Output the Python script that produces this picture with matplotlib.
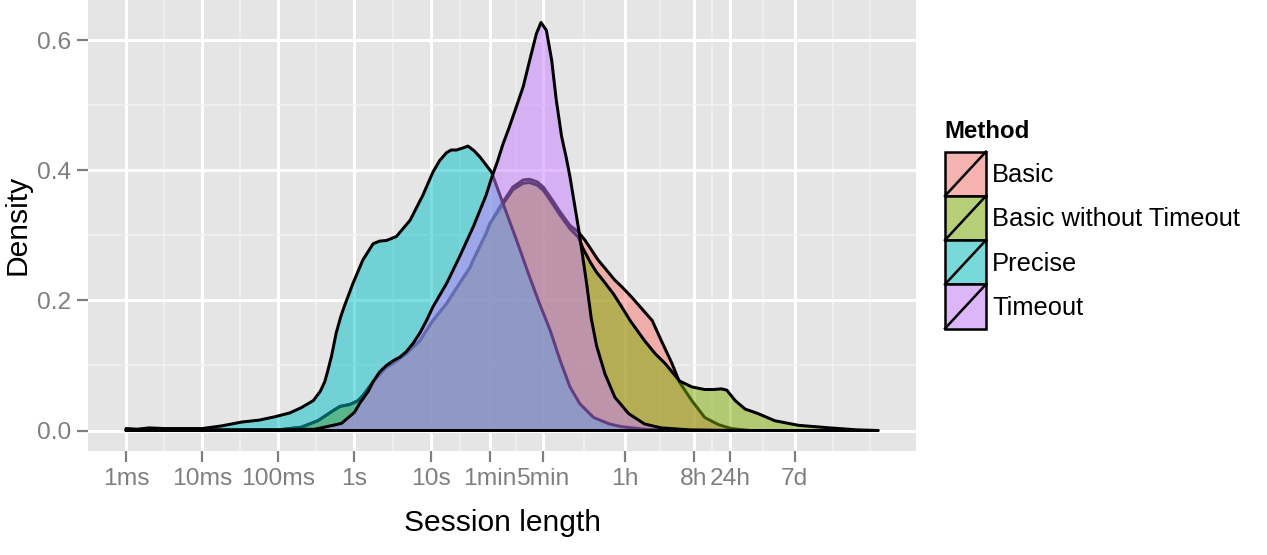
import numpy as np
import matplotlib
matplotlib.use("Agg")
import matplotlib.pyplot as plt
from matplotlib.colors import to_rgba
from matplotlib.patches import Rectangle
from matplotlib.ticker import FixedLocator

plt.rcParams['font.family'] = ['Liberation Sans', 'DejaVu Sans']

# ---------------- data ----------------
methods = ["Basic", "Basic without Timeout", "Precise", "Timeout"]
colors = ["#F8766D", "#7CAE00", "#00BFC4", "#C77CFF"]

tick_seconds = [0.001, 0.01, 0.1, 1, 10, 60, 300, 3600, 28800, 86400, 604800]
tick_labels = ["1ms", "10ms", "100ms", "1s", "10s", "1min", "5min", "1h", "8h", "24h", "7d"]
y_ticks = [0.0, 0.2, 0.4, 0.6]

# x values are log10(session length in seconds), y values are densities
basic_x = [-3.0, -1.0, -0.70, -0.48, -0.30, -0.19, -0.06, 0.05, 0.12, 0.245,
           0.42, 0.51, 0.68, 0.86, 1.03, 1.21, 1.38, 1.515, 1.56, 1.73,
           1.78, 1.91, 2.08, 2.215, 2.30, 2.40, 2.48, 2.57, 2.70, 2.83,
           2.94, 3.03, 3.20, 3.42, 3.51, 3.64, 3.79, 3.91, 4.03, 4.17,
           4.27, 4.43, 4.60, 4.78, 4.95, 5.20]
basic_y = [0.0, 0.001, 0.005, 0.015, 0.029, 0.037, 0.040, 0.046, 0.055, 0.075,
           0.097, 0.103, 0.118, 0.138, 0.169, 0.195, 0.226, 0.250, 0.262, 0.303,
           0.318, 0.344, 0.374, 0.385, 0.386, 0.382, 0.374, 0.359, 0.336, 0.315,
           0.305, 0.292, 0.262, 0.231, 0.221, 0.205, 0.185, 0.169, 0.138, 0.103,
           0.074, 0.046, 0.020, 0.009, 0.003, 0.0]

bwot_x = [-3.0, -1.0, -0.70, -0.48, -0.30, -0.19, -0.06, 0.05, 0.12, 0.245,
          0.42, 0.51, 0.68, 0.86, 1.03, 1.21, 1.38, 1.515, 1.56, 1.73,
          1.78, 1.91, 2.08, 2.215, 2.30, 2.40, 2.48, 2.57, 2.70, 2.83,
          2.94, 3.00, 3.10, 3.18, 3.25, 3.40, 3.51, 3.62, 3.81, 3.95,
          4.08, 4.27, 4.43, 4.60, 4.72, 4.82, 4.89, 5.00, 5.13, 5.30,
          5.52, 5.83, 6.245, 6.60, 6.88]
bwot_y = [0.0, 0.001, 0.005, 0.015, 0.029, 0.037, 0.040, 0.046, 0.055, 0.075,
          0.097, 0.103, 0.118, 0.138, 0.169, 0.195, 0.226, 0.250, 0.262, 0.303,
          0.318, 0.341, 0.370, 0.380, 0.381, 0.377, 0.369, 0.354, 0.331, 0.310,
          0.297, 0.280, 0.258, 0.243, 0.233, 0.210, 0.190, 0.169, 0.138, 0.118,
          0.103, 0.076, 0.067, 0.063, 0.063, 0.064, 0.062, 0.046, 0.033, 0.026,
          0.015, 0.008, 0.004, 0.001, 0.0]

precise_x = [-3.0, -2.85, -2.7, -2.5, -2.2, -2.0, -1.75, -1.48, -1.25, -1.05,
             -0.85, -0.70, -0.54, -0.45, -0.39, -0.35, -0.30, -0.24, -0.18, -0.13,
             -0.02, 0.11, 0.245, 0.33, 0.42, 0.55, 0.73, 0.90, 1.03, 1.12,
             1.21, 1.27, 1.34, 1.42, 1.49, 1.57, 1.65, 1.80, 1.95, 2.13,
             2.30, 2.43, 2.57, 2.70, 2.83, 2.96, 3.14, 3.35, 3.50, 3.80,
             4.20]
precise_y = [0.003, 0.002, 0.004, 0.003, 0.003, 0.003, 0.007, 0.013, 0.016, 0.021,
             0.027, 0.035, 0.046, 0.060, 0.075, 0.092, 0.115, 0.150, 0.175, 0.192,
             0.226, 0.262, 0.287, 0.291, 0.292, 0.298, 0.323, 0.362, 0.397, 0.415,
             0.427, 0.431, 0.431, 0.434, 0.437, 0.430, 0.420, 0.397, 0.349, 0.292,
             0.236, 0.195, 0.154, 0.108, 0.067, 0.041, 0.020, 0.010, 0.006, 0.002,
             0.0]

timeout_x = [-3.0, -1.0, -0.52, -0.28, -0.17, -0.10, 0.0, 0.07, 0.18, 0.245,
             0.33, 0.42, 0.52, 0.60, 0.68, 0.77, 0.86, 0.95, 1.03, 1.21,
             1.38, 1.56, 1.73, 1.80, 1.88, 1.95, 2.03, 2.11, 2.215, 2.325,
             2.39, 2.45, 2.52, 2.59, 2.65, 2.72, 2.78, 2.83, 2.895, 2.95,
             3.00, 3.05, 3.11, 3.18, 3.29, 3.42, 3.60, 3.81, 4.03, 4.40,
             5.00]
timeout_y = [0.001, 0.001, 0.002, 0.008, 0.011, 0.018, 0.028, 0.042, 0.060, 0.075,
             0.090, 0.100, 0.108, 0.113, 0.121, 0.134, 0.150, 0.170, 0.190, 0.226,
             0.267, 0.313, 0.362, 0.388, 0.414, 0.440, 0.465, 0.492, 0.528, 0.580,
             0.610, 0.627, 0.615, 0.569, 0.508, 0.452, 0.420, 0.390, 0.344, 0.305,
             0.265, 0.225, 0.172, 0.130, 0.087, 0.051, 0.026, 0.010, 0.004, 0.001,
             0.0]

series = [(basic_x, basic_y), (bwot_x, bwot_y), (precise_x, precise_y), (timeout_x, timeout_y)]

# ---------------- figure ----------------
DPI = 100
W, H = 1267, 555


def pt(px):
    return px * 72.0 / DPI


fig = plt.figure(figsize=(W / DPI, H / DPI), dpi=DPI)
fig.patch.set_facecolor("white")

PL, PR, PT, PB = 88, 916, 0, 451
ax = fig.add_axes([PL / W, 1 - PB / H, (PR - PL) / W, (PB - PT) / H])
ax.set_facecolor("#E5E5E5")
for s in ax.spines.values():
    s.set_visible(False)

ax.set_xlim(-3.5, 7.375)
ax.set_ylim(-0.0315, 0.6615)

major_x = np.log10(tick_seconds)
minor_x = list((major_x[:-1] + major_x[1:]) / 2) + [6.28, 6.77]
ax.set_xticks(major_x)
ax.set_xticklabels(tick_labels)
ax.set_yticks(y_ticks)
ax.set_yticklabels([f"{v:.1f}" for v in y_ticks])
ax.xaxis.set_minor_locator(FixedLocator(minor_x))
ax.yaxis.set_minor_locator(FixedLocator([0.1, 0.3, 0.5]))
ax.set_axisbelow(True)
ax.grid(which="minor", color="#F2F2F2", lw=pt(1.5))
ax.grid(which="major", color="white", lw=pt(3))
ax.tick_params(which="minor", length=0)
ax.tick_params(which="major", color="#7F7F7F", labelcolor="#7F7F7F",
               labelsize=pt(24.5), length=pt(11), width=pt(2.2))
ax.tick_params(axis="x", which="major", pad=pt(6))
ax.tick_params(axis="y", which="major", pad=pt(6))

for i, ((xs, ys), c) in enumerate(zip(series, colors)):
    px = list(xs) + [xs[-1], xs[0]]
    py = list(ys) + [0.0, 0.0]
    ax.fill(px, py, facecolor=to_rgba(c, 0.5), edgecolor="black",
            lw=pt(3.0), joinstyle="round", zorder=2 + i)

fig.text((PL + PR) / 2 / W, 1 - 523 / H, "Session length", ha="center", va="center",
         fontsize=pt(30), color="black")
fig.text(18 / W, 1 - 225 / H, "Density", ha="center", va="center", rotation=90,
         fontsize=pt(30), color="black")

# ---------------- legend ----------------
lax = fig.add_axes([0, 0, 1, 1], zorder=5)
lax.set_xlim(0, W)
lax.set_ylim(H, 0)
lax.axis("off")
lax.text(944, 131, "Method", fontweight="bold", fontsize=pt(24), ha="left", va="center")
key_l, key_top, key_w, key_h = 945, 151.7, 41, 44.2
for i, (m, c) in enumerate(zip(methods, colors)):
    y0 = key_top + i * key_h
    lax.add_patch(Rectangle((key_l, y0), key_w, key_h, facecolor="#F2F2F2", edgecolor="none"))
    lax.add_patch(Rectangle((key_l, y0), key_w, key_h, facecolor=to_rgba(c, 0.5),
                            edgecolor="black", lw=pt(2.5)))
    lax.plot([key_l, key_l + key_w], [y0 + key_h, y0], color="black", lw=pt(2.5))
    lax.text(992, y0 + key_h / 2 + 1.5, m, fontsize=pt(25.5), ha="left", va="center")

fig.savefig("out.png", dpi=DPI)
